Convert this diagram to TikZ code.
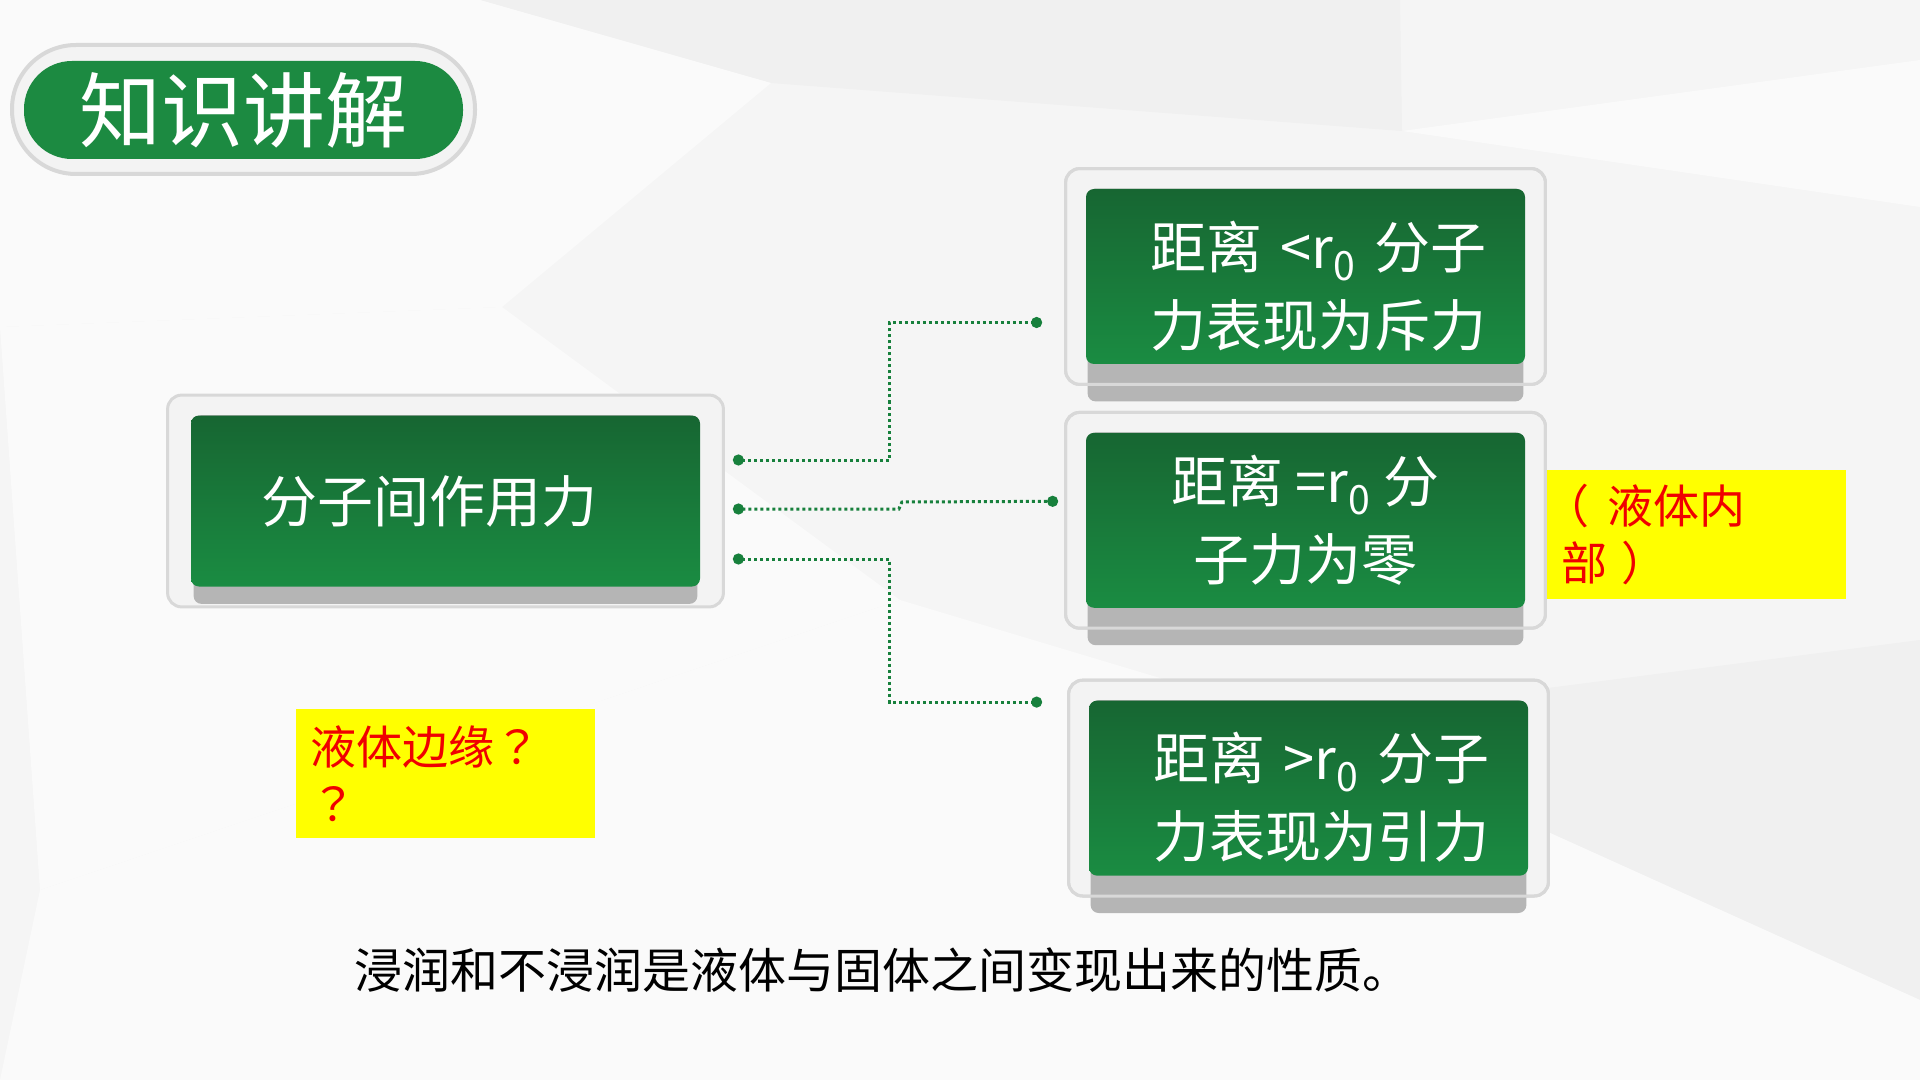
\documentclass[tikz,border=0pt]{standalone}
\usepackage{fontspec}
\newfontfamily\cjk[Script=CJK,Language=Chinese Simplified]{Noto Sans CJK SC}
\newfontfamily\punct[Script=CJK]{Noto Sans CJK TC}
\newcommand\openparen{\makebox[1em][l]{\kern-.38em{\punct （}}}
\newcommand\closeparen{\makebox[1em][l]{\kern.3em{\punct ）}}}
\usetikzlibrary{positioning,arrows.meta,fit,backgrounds,calc}

\definecolor{leafdark}{HTML}{176632}
\definecolor{leaflight}{HTML}{1A8C42}
\definecolor{pillgreen}{HTML}{1C8A41}
\definecolor{dotgreen}{HTML}{17803C}
\definecolor{framefill}{HTML}{F3F3F3}
\definecolor{frameline}{HTML}{D8D8D8}
\definecolor{shade}{HTML}{B5B5B5}
\definecolor{paper}{HTML}{F5F5F5}
\definecolor{facetlight}{HTML}{FAFAFA}
\definecolor{facetgrey}{HTML}{F0F0F0}
\definecolor{hilite}{HTML}{FFFF00}
\definecolor{alert}{HTML}{F00000}

\begin{document}
\begin{tikzpicture}[
    x=0.5pt, y=-0.5pt,
    font=\cjk,
    card/.style={
        rounded corners=4pt, top color=leafdark, bottom color=leaflight,
        text=white, align=center, inner sep=0pt,
        font=\cjk\fontsize{28pt}{39pt}\selectfont},
    smallcard/.style={card, minimum width=219.5pt, minimum height=87.5pt,
        execute at begin node={\rule{0pt}{33pt}}},
    leftcard/.style={smallcard, align=left, inner xsep=10pt, text width=199.5pt,
        execute at begin node={\leftskip=22pt\rule{0pt}{32pt}}},
    cardframe/.style={
        rounded corners=7pt, fill=framefill, draw=frameline, line width=1.5pt,
        inner xsep=10pt, inner ysep=10pt},
    cardshade/.style={fill=shade, rounded corners=4pt},
    pillring/.style={
        rounded corners=32pt, fill=framefill, draw=frameline, line width=2pt,
        minimum width=231.5pt, minimum height=64.5pt},
    pill/.style={
        rounded corners=24pt, fill=pillgreen, text=white, inner sep=0pt,
        minimum width=219.5pt, minimum height=49pt,
        font=\cjk\fontsize{41pt}{41pt}\selectfont},
    link/.style={
        {Circle[length=5.5pt]}-{Circle[length=5.5pt]}, draw=dotgreen,
        line width=1.5pt, dash pattern=on 1.5pt off 1.5pt},
    note/.style={
        fill=hilite, text=alert, align=left, anchor=north west,
        inner xsep=7pt, inner ysep=0pt, text width=135.5pt, minimum height=64.5pt,
        font=\cjk\fontsize{23pt}{28.5pt}\selectfont},
]
\useasboundingbox (0,0) rectangle (1920,1080);

% ---- background facets ----
\begin{scope}[on background layer]
    \fill[paper] (0,0) rectangle (1920,1080);
    \fill[facetgrey] (480,0) -- (1400,0) -- (1402,131) -- (771,83) -- cycle;
    \fill[facetlight] (0,0) -- (480,0) -- (771,83) -- (502,307) -- (0,327) -- cycle;
    \fill[facetlight] (1402,131) -- (1920,60) -- (1920,207) -- cycle;
    \fill[facetlight] (0,327) -- (502,307) -- (900,600) -- (40,890) -- cycle;
    \fill[facetgrey] (1300,720) -- (1920,640) -- (1920,1000) -- cycle;
    \fill[facetlight] (40,890) -- (900,600) -- (1300,720) -- (1920,1000) -- (1920,1080) -- (0,1080) -- cycle;
\end{scope}

% ---- title ----
\node[pillring] (titlering) at (243.5,109.5) {};
\node[pill] (title) at (243.5,110) {知识讲解};

% ---- cards ----
\node[card, align=left, minimum width=254.5pt, minimum height=85.5pt,
      inner xsep=35pt, text width=184.5pt] (force) at (445.5,501) {分子间作用力};
\node[leftcard] (near) at (1305.5,276.5) {距离 <r\textsubscript{0} 分子\\力表现为斥力};
\node[smallcard, below=34pt of near] (equal) {距离 =r\textsubscript{0} 分\\子力为零};
\node[leftcard, below=46pt of equal, xshift=1.5pt] (far) {距离 >r\textsubscript{0} 分子\\力表现为引力};

% ---- frames + shadows ----
\begin{scope}[on background layer]
    \node[cardframe, fit=(force), inner xsep=11.5pt] (forceframe) {};
    \foreach \c in {near,equal,far}
        \node[cardframe, fit=(\c)] (\c frame) {};
    \fill[cardshade] ($(force.north west)+(3,0)$) rectangle ($(force.south east)+(-3,17)$);
    \foreach \c in {near,equal,far}
        \fill[cardshade] ($(\c.north west)+(2,0)$) rectangle ($(\c.south east)+(-2,37)$);
    \foreach \c in {near,equal,far}
        \node[cardframe, fill=none, fit=(\c)] {};
\end{scope}

% ---- links ----
\coordinate (f1) at ($(forceframe.east)+(8,-41)$);
\coordinate (f2) at ($(forceframe.east)+(8,8)$);
\coordinate (f3) at ($(forceframe.east)+(8,58)$);
\coordinate (t1) at ($(nearframe.west)+(-22,46)$);
\coordinate (t2) at ($(equalframe.west)+(-6,-19)$);
\coordinate (t3) at ($(farframe.west)+(-25,-86)$);
\draw[link] (f1) -- ++(157,0) |- (t1);
\draw[link] (f2) -- ++(166,0) -- ++(3,-7) -- (t2);
\draw[link] (f3) -- ++(157,0) |- (t3);

% ---- notes ----
\node[note] (edgenote) at (296,709) {液体边缘{\punct ？}\\{\punct ？}};
\node[note] (innernote) at (1547,470) {\openparen 液体内\\部\closeparen};

\node[font=\cjk\fontsize{24pt}{24pt}\selectfont] (summary) at (882,970)
    {浸润和不浸润是液体与固体之间变现出来的性质。};

\end{tikzpicture}
\end{document}
